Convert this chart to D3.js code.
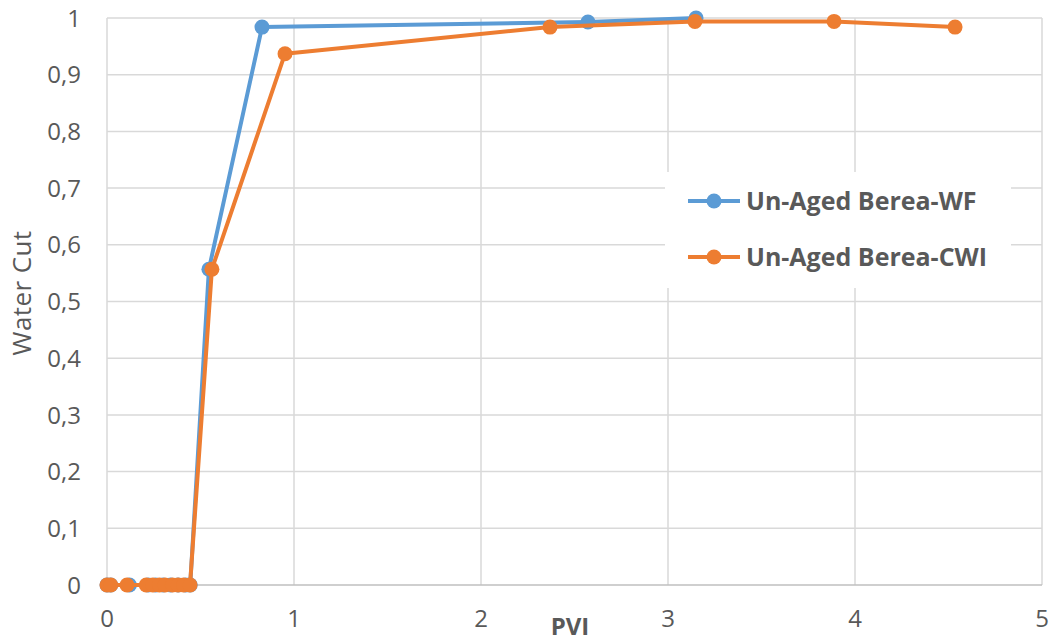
<!DOCTYPE html>
<html>
<head>
<meta charset="utf-8">
<script src="https://cdn.jsdelivr.net/npm/d3@7/dist/d3.min.js"></script>
<style>
  html, body { margin: 0; padding: 0; background: #fff; }
  svg { display: block; }
  text { font-family: "Open Sans", "Liberation Sans", sans-serif; fill: #595959; }
</style>
</head>
<body>
<svg id="chart" width="1056" height="643"></svg>
<script>
// Un-Aged Berea: waterflood (WF) vs. carbonated water injection (CWI)
const wfPVI   = [0, 0.02, 0.12, 0.22, 0.26, 0.30, 0.34, 0.38, 0.42, 0.445, 0.545, 0.829, 2.572, 3.15];
const wfCut   = [0, 0, 0, 0, 0, 0, 0, 0, 0, 0, 0.557, 0.984, 0.993, 1.0];
const cwiPVI  = [0, 0.02, 0.107, 0.21, 0.245, 0.28, 0.31, 0.35, 0.38, 0.41, 0.444, 0.561, 0.952, 2.369, 3.144, 3.888, 4.535];
const cwiCut  = [0, 0, 0, 0, 0, 0, 0, 0, 0, 0, 0, 0.557, 0.937, 0.984, 0.994, 0.994, 0.984];
const xTicks  = [0, 1, 2, 3, 4, 5];
const yTicks  = [0, 0.1, 0.2, 0.3, 0.4, 0.5, 0.6, 0.7, 0.8, 0.9, 1];
const seriesNames = ["Un-Aged Berea-WF", "Un-Aged Berea-CWI"];
const seriesColors = ["#5B9BD5", "#ED7D31"];

const svg = d3.select("#chart");
const plot = { left: 107, right: 1042, top: 18, bottom: 585 };

const x = d3.scaleLinear().domain([0, 5]).range([plot.left, plot.right]);
const y = d3.scaleLinear().domain([0, 1]).range([plot.bottom, plot.top]);

// gridlines
svg.append("g").selectAll("line").data(xTicks).join("line")
  .attr("x1", d => x(d)).attr("x2", d => x(d))
  .attr("y1", plot.top).attr("y2", plot.bottom)
  .attr("stroke", "#D9D9D9").attr("stroke-width", 1.5);
svg.append("g").selectAll("line").data(yTicks).join("line")
  .attr("x1", plot.left).attr("x2", plot.right)
  .attr("y1", d => y(d)).attr("y2", d => y(d))
  .attr("stroke", d => d === 0 ? "#BFBFBF" : "#D9D9D9").attr("stroke-width", 1.5);

// tick labels (decimal comma)
const fmt = d => String(d3.format(".1~f")(d)).replace(".", ",");
svg.append("g").selectAll("text").data(yTicks).join("text")
  .attr("x", 81).attr("y", d => y(d)).attr("dy", "0.36em")
  .attr("text-anchor", "end").attr("font-size", 24).text(fmt);
svg.append("g").selectAll("text").data(xTicks).join("text")
  .attr("x", d => x(d)).attr("y", 627)
  .attr("text-anchor", "middle").attr("font-size", 24).text(d => d);

// axis titles
svg.append("text").attr("x", 570).attr("y", 635).attr("text-anchor", "middle")
  .attr("font-size", 24).attr("font-weight", "bold").text("PVI");
svg.append("text").attr("transform", "translate(31,293) rotate(-90)")
  .attr("text-anchor", "middle").attr("font-size", 26).attr("letter-spacing", 0.4).text("Water Cut");

// series
const series = [
  { xs: wfPVI, ys: wfCut },
  { xs: cwiPVI, ys: cwiCut }
];
const line = d3.line().x(d => x(d[0])).y(d => y(d[1]));
series.forEach((s, i) => {
  const pts = s.xs.map((v, j) => [v, s.ys[j]]);
  const g = svg.append("g");
  g.append("path").datum(pts).attr("d", line)
    .attr("fill", "none").attr("stroke", seriesColors[i])
    .attr("stroke-width", 4).attr("stroke-linejoin", "round");
  g.selectAll("circle").data(pts).join("circle")
    .attr("cx", d => x(d[0])).attr("cy", d => y(d[1])).attr("r", 7.5)
    .attr("fill", seriesColors[i]);
});

// legend
const lg = svg.append("g");
lg.append("rect").attr("x", 665).attr("y", 172).attr("width", 346).attr("height", 116).attr("fill", "#fff");
seriesNames.forEach((name, i) => {
  const cy = 201 + i * 56;
  lg.append("line").attr("x1", 688).attr("x2", 740).attr("y1", cy).attr("y2", cy)
    .attr("stroke", seriesColors[i]).attr("stroke-width", 4);
  lg.append("circle").attr("cx", 714).attr("cy", cy).attr("r", 7.5).attr("fill", seriesColors[i]);
  lg.append("text").attr("x", 746).attr("y", cy).attr("dy", "0.36em")
    .attr("font-size", 25).attr("font-weight", "bold").text(name);
});
</script>
</body>
</html>
